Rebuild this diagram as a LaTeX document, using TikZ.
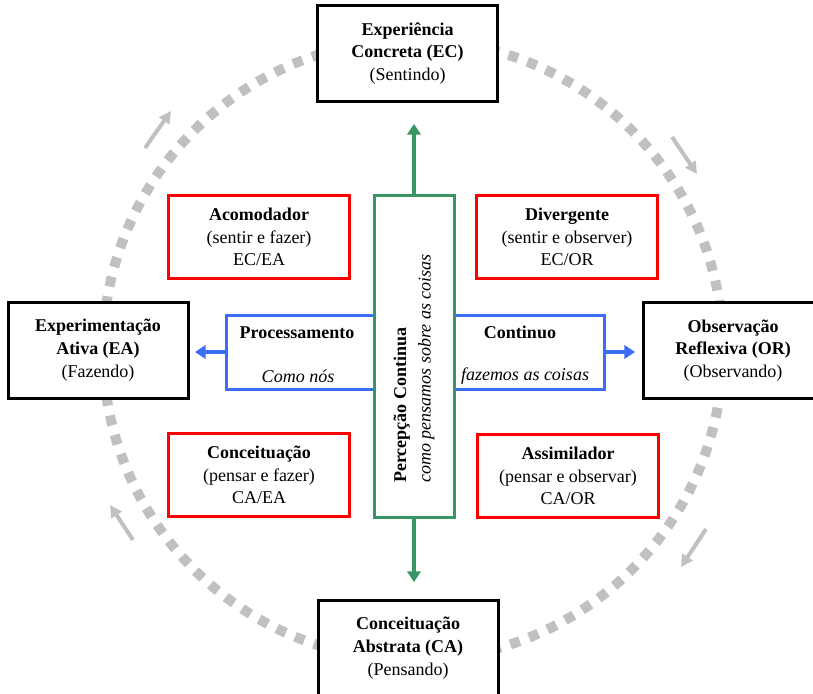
\documentclass[tikz,border=0pt]{standalone}
\usepackage{fontspec}
\setmainfont{Liberation Serif}
\usetikzlibrary{arrows.meta}
\definecolor{ringgray}{RGB}{192,192,192}
\definecolor{percgreen}{RGB}{56,150,100}
\definecolor{procblue}{RGB}{60,110,245}

\begin{document}
\begin{tikzpicture}[x=0.75pt, y=-0.75pt]
		\tikzset{stage/.style={draw=black, line width=2.25pt, fill=white, minimum width=135pt, minimum height=72pt, align=center, font=\fontsize{13.5}{17}\selectfont}};
		\tikzset{learner/.style={draw=red, line width=2.25pt, fill=white, minimum width=136pt, minimum height=62pt, align=center, font=\fontsize{13.5}{17}\selectfont}};
		\tikzset{lbl/.style={font=\fontsize{13.5}{17}\selectfont, inner sep=1pt}};
		\tikzset{cycarrow/.style={ringgray, line width=3pt, -{Triangle[length=9pt, width=9pt]}}};
		\tikzset{axarrow/.style={line width=3pt, -{Triangle[length=8pt, width=10pt]}}};

		\useasboundingbox (0,0) rectangle (813,693);

		% ring of the cycle
		\draw[ringgray, line width=7.5pt, dash pattern=on 7.5pt off 7.5pt] (413,350) circle[radius=232.5pt];

		\coordinate (t1) at (145,148);
		\coordinate (h1) at (171,111);
		\coordinate (t2) at (672,137);
		\coordinate (h2) at (697,174);
		\coordinate (t3) at (706,529);
		\coordinate (h3) at (681,567);
		\coordinate (t4) at (133,540);
		\coordinate (h4) at (110,505);

		\draw[cycarrow] (t1) to (h1);
		\draw[cycarrow] (t2) to (h2);
		\draw[cycarrow] (t3) to (h3);
		\draw[cycarrow] (t4) to (h4);

		% the four stages
		\node[stage] (ec) at (407.5,53.5) {\textbf{Experiência}\\\textbf{Concreta (EC)}\\(Sentindo)};
		\node[stage] (or) at (733,350.5) {\textbf{Observação}\\\textbf{Reflexiva (OR)}\\(Observando)};
		\node[stage] (ca) at (408,648) {\textbf{Conceituação}\\\textbf{Abstrata (CA)}\\(Pensando)};
		\node[stage] (ea) at (98,350) {\textbf{Experimentação}\\\textbf{Ativa (EA)}\\(Fazendo)};

		% the four styles
		\node[learner] (aco) at (259,237) {\textbf{Acomodador}\\(sentir e fazer)\\EC/EA};
		\node[learner] (div) at (567,237) {\textbf{Divergente}\\(sentir e observer)\\EC/OR};
		\node[learner] (con) at (259,475) {\textbf{Conceituação}\\(pensar e fazer)\\CA/EA};
		\node[learner] (ass) at (568,476) {\textbf{Assimilador}\\(pensar e observar)\\CA/OR};

		% processing axis
		\node[draw=procblue, line width=2.25pt, fill=white, minimum width=283.5pt, minimum height=55.5pt] (proc) at (415,352) {};
		\node[lbl] (pr1) at (297,333) {\textbf{Processamento}};
		\node[lbl] (pr2) at (298,376) {\textit{Como nós}};
		\node[lbl] (pr3) at (520,332) {\textbf{Continuo}};
		\node[lbl] (pr4) at (525,376) {\textit{fazemos as coisas}};

		\coordinate (pw) at (195,352);
		\coordinate (pe) at (635,352);
		\draw[procblue, axarrow] (proc.west) to (pw);
		\draw[procblue, axarrow] (proc.east) to (pe);

		% perception axis
		\node[draw=percgreen, line width=2.25pt, fill=white, minimum width=60pt, minimum height=241.5pt] (perc) at (414,356) {};
		\node[lbl, rotate=90, anchor=west, align=left, inner sep=0pt] (pc1) at (414,483) {\textbf{Percepção Continua}\\[1.5pt]\textit{como pensamos sobre as coisas}};

		\coordinate (pn) at (414,124);
		\coordinate (ps) at (414,582);
		\draw[percgreen, axarrow] (perc.north) to (pn);
		\draw[percgreen, axarrow] (perc.south) to (ps);
	\end{tikzpicture}
\end{document}
